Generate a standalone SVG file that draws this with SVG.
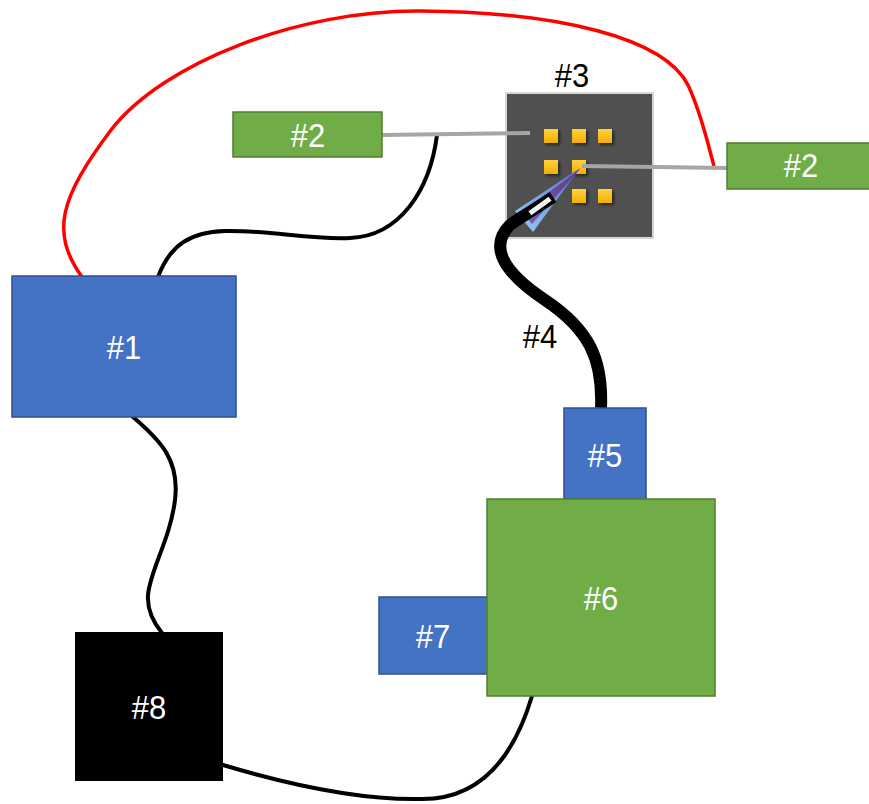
<svg xmlns="http://www.w3.org/2000/svg" width="869" height="804" viewBox="0 0 869 804">
  <style>
    .lbl { font-family: "Liberation Sans", Arial, sans-serif; font-size: 31px; fill: #ffffff; text-anchor: middle; }
    .lbl-dark { font-family: "Liberation Sans", Arial, sans-serif; font-size: 31px; fill: #000000; text-anchor: middle; }
    .blue { fill: #4472C4; stroke: #2F528F; stroke-width: 1.5; }
    .green { fill: #70AD47; stroke: #507E32; stroke-width: 1.5; }
    .wire { fill: none; stroke: #000000; stroke-width: 4; stroke-linecap: round; }
    .fiber { fill: none; stroke: #A6A6A6; stroke-width: 4; }
    .pad { fill: url(#padFill); filter: url(#padShadow); }
  </style>
  <defs>
    <linearGradient id="padFill" x1="0" y1="0" x2="0" y2="1">
      <stop offset="0" stop-color="#FFD23F"/>
      <stop offset="1" stop-color="#F2B000"/>
    </linearGradient>
    <linearGradient id="coneEdge" gradientUnits="userSpaceOnUse" x1="580" y1="168" x2="524" y2="220">
      <stop offset="0" stop-color="#5A6FC0"/>
      <stop offset="1" stop-color="#8CC0EE"/>
    </linearGradient>
    <linearGradient id="coneCore" gradientUnits="userSpaceOnUse" x1="580" y1="168" x2="524" y2="220">
      <stop offset="0" stop-color="#5B3A8E"/>
      <stop offset="1" stop-color="#7A5BB0"/>
    </linearGradient>
    <filter id="padShadow" x="-40%" y="-40%" width="200%" height="200%">
      <feDropShadow dx="2" dy="2" stdDeviation="1.5" flood-color="#000000" flood-opacity="0.55"/>
    </filter>
  </defs>

  <!-- chip module with pad array -->
  <g id="node-3">
    <rect x="506" y="93" width="147" height="145" fill="#505050" stroke="#D6D6D6" stroke-width="2"/>
    <rect class="pad" x="544" y="129" width="14" height="14"/>
    <rect class="pad" x="572" y="129" width="14" height="14"/>
    <rect class="pad" x="598" y="129" width="14" height="14"/>
    <rect class="pad" x="544" y="160" width="14" height="14"/>
    <rect class="pad" x="572" y="160" width="14" height="14"/>
    <rect class="pad" x="572" y="189" width="14" height="14"/>
    <rect class="pad" x="598" y="189" width="14" height="14"/>
    <text class="lbl-dark" transform="translate(572 87) scale(1 1.1)">#3</text>
  </g>

  <g id="connectors">
    <!-- red loop from #1 to right #2 -->
    <path d="M82,277 C50,232 60,198 111,130 C164,62 300,10 420,11 C560,12 664,38 688,85 C702,115 708,145 714,166" fill="none" stroke="#FF0000" stroke-width="3.5"/>
    <!-- #1 to the upper gray fiber -->
    <path class="wire" d="M158,277 C170,245 190,232 225,231 C270,230 310,240 350,238 C400,236 430,190 437,135"/>
    <!-- #1 to #8 -->
    <path class="wire" d="M133,417 C160,440 180,460 175,500 C170,540 150,570 148,595 C147,610 153,622 162,633"/>
    <!-- #8 to #6 -->
    <path class="wire" d="M223,765 C290,785 360,800 420,799 C470,800 510,770 532,696"/>
    <!-- gray fibers into the pads -->
    <path class="fiber" d="M382,135 L530,133"/>
    <path class="fiber" d="M582,166 L727,168"/>
    <!-- light cone from the probe -->
    <polygon points="580,168 515,211 533,232" fill="url(#coneEdge)"/>
    <polygon points="580,169 522,212 532,224" fill="url(#coneCore)"/>
    <!-- thick cable #4 -->
    <path d="M601,408 C603,360 590,330 545,300 C500,270 490,245 510,225 C518,219 532,211 553,197" fill="none" stroke="#000000" stroke-width="12"/>
    <rect x="527" y="203" width="26" height="6" fill="#F2F2F2" stroke="#000000" stroke-width="1" transform="rotate(-36 540 206)"/>
    <text class="lbl-dark" transform="translate(540 348) scale(1 1.1)">#4</text>
  </g>

  <g id="node-1">
    <rect class="blue" x="12" y="276" width="224" height="141"/>
    <text class="lbl" transform="translate(124 359) scale(1 1.1)">#1</text>
  </g>

  <g id="node-2a">
    <rect class="green" x="233" y="112" width="149" height="45"/>
    <text class="lbl" transform="translate(308 147) scale(1 1.1)">#2</text>
  </g>

  <g id="node-2b">
    <rect class="green" x="727" y="143" width="150" height="46"/>
    <text class="lbl" transform="translate(801 177) scale(1 1.1)">#2</text>
  </g>

  <g id="node-5">
    <rect class="blue" x="564" y="408" width="82" height="91"/>
    <text class="lbl" transform="translate(605 467) scale(1 1.1)">#5</text>
  </g>

  <g id="node-7">
    <rect class="blue" x="379" y="597" width="109" height="77"/>
    <text class="lbl" transform="translate(433 648) scale(1 1.1)">#7</text>
  </g>

  <g id="node-6">
    <rect class="green" x="487" y="499" width="228" height="197"/>
    <text class="lbl" transform="translate(601 610) scale(1 1.1)">#6</text>
  </g>

  <g id="node-8">
    <rect x="75" y="632" width="148" height="149" fill="#000000"/>
    <text class="lbl" transform="translate(149 719) scale(1 1.1)">#8</text>
  </g>
</svg>
